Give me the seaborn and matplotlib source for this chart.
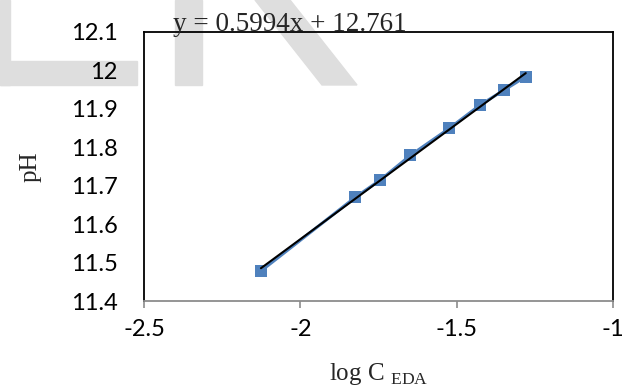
import numpy as np
import pandas as pd
import seaborn as sns
import matplotlib.pyplot as plt
from matplotlib.patches import Polygon, Rectangle

# Data
log_c = [-2.126, -1.824, -1.744, -1.648, -1.524, -1.425, -1.348, -1.279]
ph = [11.478, 11.670, 11.715, 11.779, 11.849, 11.910, 11.949, 11.984]
x_ticks = [-2.5, -2, -1.5, -1]
y_ticks = [11.4, 11.5, 11.6, 11.7, 11.8, 11.9, 12.0, 12.1]
equation = "y = 0.5994x + 12.761"

df = pd.DataFrame({"logC": log_c, "pH": ph})

sns.set_theme(style="white")
plt.rcParams["font.family"] = ["Lato", "DejaVu Sans"]
plt.rcParams["mathtext.fontset"] = "custom"
plt.rcParams["mathtext.rm"] = "Liberation Serif"

fig = plt.figure(figsize=(6.26, 3.9), dpi=100)
fig.patch.set_facecolor("white")

# faint watermark behind the chart
wm = "#dedede"
fig.patches.extend([
    Rectangle((0, 1 - 85 / 390), 10 / 626, 85 / 390, transform=fig.transFigure, color=wm, zorder=-5),
    Rectangle((0, 1 - 85 / 390), 137 / 626, 24 / 390, transform=fig.transFigure, color=wm, zorder=-5),
    Rectangle((175 / 626, 1 - 85 / 390), 27 / 626, 85 / 390, transform=fig.transFigure, color=wm, zorder=-5),
    Polygon([(255 / 626, 1), (290 / 626, 1), (357 / 626, 1 - 85 / 390), (322 / 626, 1 - 85 / 390)],
            closed=True, transform=fig.transFigure, color=wm, zorder=-5),
])

ax = fig.add_axes([144 / 626, 1 - 301 / 390, 469 / 626, 269 / 390])
ax.set_facecolor("none")

blue = "#4f81bd"
sns.lineplot(data=df, x="logC", y="pH", ax=ax, color=blue, linewidth=2.2,
             marker="s", markersize=9, markeredgewidth=0, zorder=3)
sns.regplot(data=df, x="logC", y="pH", ax=ax, scatter=False, ci=None, truncate=True,
            line_kws=dict(color="black", linewidth=1.5, zorder=4))

ax.set_xlim(-2.5, -1)
ax.set_ylim(11.4, 12.1)
ax.set_xticks(x_ticks)
ax.set_yticks(y_ticks)
ax.set_xticklabels(["%g" % v for v in x_ticks])
ax.set_yticklabels(["%g" % v for v in y_ticks])
ax.tick_params(axis="y", length=0, pad=19, labelsize=17, labelcolor="black")
ax.tick_params(axis="x", direction="out", length=5, width=1.2, color="#8c8c8c",
               pad=8, labelsize=17, labelcolor="black", bottom=True)

for side in ["left", "top", "right"]:
    ax.spines[side].set_color("black")
    ax.spines[side].set_linewidth(1.3)
ax.spines["bottom"].set_color("#8c8c8c")
ax.spines["bottom"].set_linewidth(1.3)

ax.set_xlabel(r"log C $_{\mathrm{EDA}}$", fontsize=18, family="Liberation Serif", labelpad=15)
ax.set_ylabel("pH", fontsize=18, family="Liberation Serif")
ax.yaxis.set_label_coords(-0.2175, 0.5)

fig.text(173 / 626, 1 - 31 / 390, equation, fontsize=19.5, family="Liberation Serif",
         va="baseline", ha="left", zorder=5)

fig.savefig("out.png", dpi=100)
